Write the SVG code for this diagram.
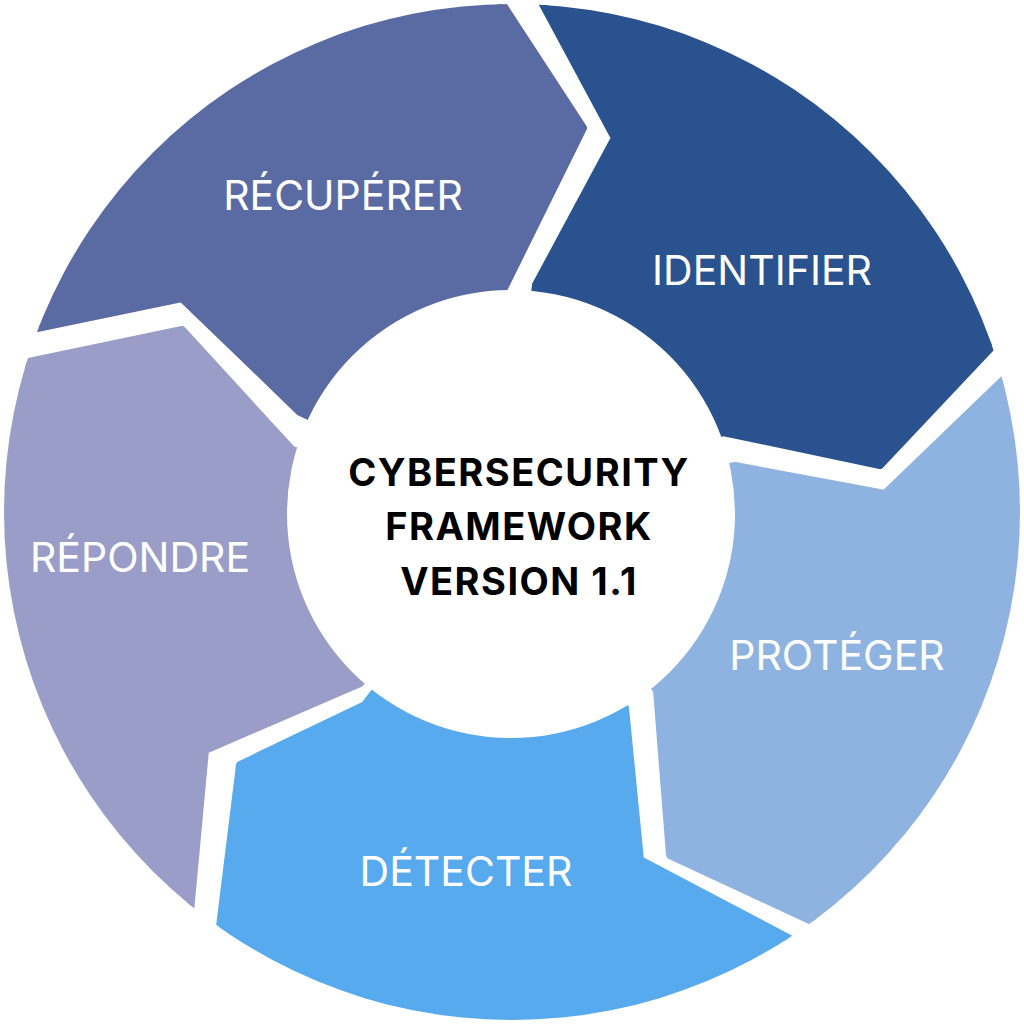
<svg xmlns="http://www.w3.org/2000/svg" width="1024" height="1024" viewBox="0 0 1024 1024">
<style>
.lab{font-family:Inter,"Open Sans",sans-serif;font-size:41px;fill:#fff;text-anchor:middle}
.ctr{font-family:Inter,"Liberation Sans",sans-serif;font-size:38px;font-weight:bold;fill:#000;text-anchor:middle;letter-spacing:1.5px}
.seg{stroke-linejoin:round;stroke-width:8}
</style>
<defs><clipPath id="c"><circle cx="512" cy="512" r="508"/></clipPath></defs>
<rect width="1024" height="1024" fill="#fff"/>
<g clip-path="url(#c)">
<g id="recuperer"><path class="seg" fill="#5a6ba4" stroke="#5a6ba4" d="M512,512 L300,412 L182,298 L-20,340 L-20,-40 L480,-30 L583,128 L503,290 Z"/></g>
<g id="identifier"><path class="seg" fill="#2a528e" stroke="#2a528e" d="M512,512 L536,285 L615,138 L530,-20 L1050,-20 L1045,290 L880,465 L723,432 Z"/></g>
<g id="proteger"><path class="seg" fill="#8fb3e0" stroke="#8fb3e0" d="M512,512 L735,466 L885,494 L1050,335 L1050,1050 L900,962 L670,855 L657,690 Z"/></g>
<g id="detecter"><path class="seg" fill="#57aaed" stroke="#57aaed" d="M512,512 L625,708 L640,860 L900,997 L900,1100 L200,1100 L214,975 L240,765 L365,705 Z"/></g>
<g id="repondre"><path class="seg" fill="#9a9dc8" stroke="#9a9dc8" d="M512,512 L292,450 L182,330 L-20,372 L-20,1000 L186,955 L205,750 L360,683 Z"/></g>
</g>
<g id="center"><circle cx="511" cy="514" r="224" fill="#fff"/>
<text class="ctr" x="519" y="486">CYBERSECURITY</text>
<text class="ctr" x="519" y="540">FRAMEWORK</text>
<text class="ctr" x="519" y="595">VERSION 1.1</text></g>
<g id="labels">
<text class="lab" x="343" y="210">RÉCUPÉRER</text>
<text class="lab" x="762" y="285">IDENTIFIER</text>
<text class="lab" x="837" y="670">PROTÉGER</text>
<text class="lab" x="466" y="886">DÉTECTER</text>
<text class="lab" x="140" y="572">RÉPONDRE</text>
</g>
<g id="connectors"/>
</svg>
